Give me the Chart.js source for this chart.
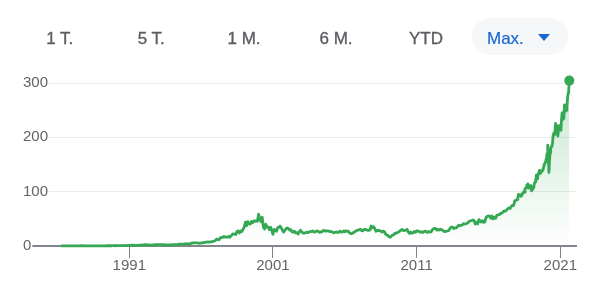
<!DOCTYPE html>
<html>
<head>
<meta charset="utf-8">
<script src="https://cdn.jsdelivr.net/npm/chart.js@4.4.1/dist/chart.umd.min.js"></script>
<style>
  html, body { margin: 0; padding: 0; background: #fff; }
  #wrap { position: relative; width: 600px; height: 291px; overflow: hidden; }
  #chart { position: absolute; left: 0; top: 0; }
  .range {
    position: absolute; top: 37.5px; transform: translate(-50%, -50%);
    font: 17px "Liberation Sans", Arial, sans-serif; line-height: 1;
    color: #5a5e63; white-space: nowrap; -webkit-text-stroke: 0.35px #5a5e63;
  }
  .pill {
    position: absolute; left: 472px; top: 18px; width: 96px; height: 37px;
    border-radius: 18.5px; background: #f5f7f9;
  }
  .pill .label {
    position: absolute; left: 15px; top: 19.5px; transform: translateY(-50%);
    font: 17px "Liberation Sans", Arial, sans-serif; line-height: 1; color: #1a67d2;
    -webkit-text-stroke: 0.2px #1a67d2;
  }
  .pill .caret {
    position: absolute; left: 66px; top: 16px; width: 0; height: 0;
    border-left: 6.5px solid transparent; border-right: 6.5px solid transparent;
    border-top: 7px solid #1a67d2;
  }
</style>
</head>
<body>
<div id="wrap">
  <canvas id="chart" width="600" height="291"></canvas>
  <div class="range" style="left:59.7px">1 T.</div>
  <div class="range" style="left:151.2px">5 T.</div>
  <div class="range" style="left:244px">1 M.</div>
  <div class="range" style="left:336px">6 M.</div>
  <div class="range" style="left:426px">YTD</div>
  <div class="pill"><span class="label">Max.</span><span class="caret"></span></div>
</div>
<script>
// Month-end closing prices (split-adjusted), March 1986 to December 1999
const closes1986to1999 = [
  0.10, 0.11, 0.11, 0.10, 0.10, 0.11, 0.11, 0.12, 0.12, 0.12,
  0.16, 0.20, 0.28, 0.32, 0.34, 0.33, 0.38, 0.43, 0.42, 0.33, 0.34, 0.38,
  0.37, 0.35, 0.36, 0.37, 0.35, 0.38, 0.37, 0.35, 0.36, 0.37, 0.34, 0.31,
  0.35, 0.36, 0.38, 0.40, 0.44, 0.48, 0.50, 0.52, 0.49, 0.55, 0.52, 0.46,
  0.58, 0.63, 0.67, 0.69, 0.81, 0.85, 0.87, 0.90, 0.85, 0.88, 0.98, 1.05,
  1.25, 1.42, 1.55, 1.39, 1.22, 1.26, 1.33, 1.48, 1.60, 1.66, 1.81, 2.24,
  2.30, 2.28, 2.12, 2.02, 1.96, 1.78, 1.83, 1.94, 2.09, 2.33, 2.47, 2.67,
  2.58, 2.36, 2.58, 2.30, 2.30, 2.22, 2.09, 2.14, 2.05, 2.12, 2.16, 2.52,
  2.56, 2.59, 2.57, 2.66, 3.26, 3.23, 3.37, 3.59, 3.47, 3.99, 3.98, 3.82,
  3.80, 3.95, 4.22, 5.08, 5.58, 5.65, 5.65, 5.73, 5.66, 5.00, 5.41, 5.48,
  5.84, 6.13, 6.45, 7.01, 7.05, 7.51, 7.29, 7.66, 8.23, 8.59, 9.24, 10.33,
  12.78, 11.94, 11.46, 15.19, 15.34, 15.80, 17.69, 16.45, 16.54, 16.25, 17.66, 16.16,
  18.66, 21.20, 22.38, 21.63, 21.19, 27.10, 27.70, 23.98, 27.52, 26.47, 30.55, 34.67,
  43.75, 37.52, 44.81, 40.66, 40.34, 45.09, 42.88, 46.31, 45.31, 46.31, 45.50, 58.38
];

// Month-end closing prices, January 2000 to December 2017
const closes2000to2017 = [
  48.94, 44.69, 53.13, 34.88, 31.28, 40.00, 34.94, 35.03, 30.16, 34.44, 28.66, 21.69,
  30.53, 29.50, 27.34, 33.88, 34.59, 36.50, 33.10, 28.53, 25.59, 29.08, 32.11, 33.13,
  31.85, 29.17, 30.15, 26.13, 25.46, 27.35, 24.00, 24.54, 21.87, 26.74, 28.92, 25.85,
  23.73, 23.70, 24.21, 25.57, 24.61, 25.64, 26.41, 26.52, 27.80, 26.14, 25.71, 27.37,
  27.65, 26.53, 24.93, 26.13, 26.23, 28.56, 28.46, 27.30, 27.65, 27.97, 26.81, 26.72,
  26.28, 25.16, 24.17, 25.30, 25.80, 24.84, 25.61, 27.38, 25.73, 25.70, 27.68, 26.15,
  28.15, 26.87, 27.21, 24.15, 22.65, 23.30, 24.06, 25.70, 27.35, 28.71, 29.36, 29.86,
  30.86, 28.17, 27.87, 30.60, 30.69, 29.47, 28.99, 28.73, 29.46, 36.81, 33.60, 35.60,
  32.60, 27.20, 28.38, 28.52, 28.32, 27.51, 25.72, 27.29, 26.69, 22.33, 20.22, 19.44,
  17.10, 16.15, 18.37, 20.26, 20.89, 23.77, 23.52, 24.65, 25.72, 27.73, 29.41, 30.48,
  28.18, 28.67, 29.29, 30.54, 25.80, 23.01, 25.81, 23.47, 24.49, 26.67, 25.26, 27.91,
  27.73, 26.58, 25.39, 26.02, 25.01, 26.00, 27.40, 26.60, 24.89, 26.63, 25.58, 25.96,
  29.53, 31.74, 32.26, 31.98, 29.19, 30.59, 29.47, 30.82, 29.76, 28.54, 26.62, 26.71,
  27.45, 27.80, 28.61, 33.10, 34.90, 34.55, 31.84, 33.40, 33.28, 35.41, 38.13, 37.41,
  37.84, 38.31, 40.99, 40.40, 40.94, 41.70, 43.16, 45.43, 46.36, 46.95, 47.81, 46.45,
  40.40, 43.85, 40.66, 48.64, 46.86, 44.15, 46.70, 43.52, 44.26, 52.64, 54.35, 55.48,
  55.09, 50.88, 55.23, 49.87, 53.00, 51.17, 56.68, 57.46, 57.60, 59.92, 60.26, 62.14,
  64.65, 63.98, 65.86, 68.46, 69.84, 68.93, 72.70, 74.77, 74.49, 83.18, 84.17, 85.54
];

// Mid-month and month-end closes, January 2018 to mid-August 2021
const closes2018to2021 = [
  88.4, 95.0, 92.7, 93.8, 94.2, 91.3, 93.1, 93.5, 97.2, 98.8, 100.1, 98.6,
  105.4, 106.1, 107.7, 112.3, 113.4, 114.4, 106.6, 106.8, 107.3, 110.9, 106.0, 101.6,
  105.0, 104.4, 108.2, 112.0, 115.9, 117.9, 120.8, 130.6, 126.0, 123.7, 132.5, 134.0,
  138.9, 136.3, 133.7, 137.9, 137.3, 139.0, 141.6, 143.4, 150.0, 151.4, 154.6, 157.7,
  163.2, 170.2, 185.4, 162.0, 135.4, 157.7, 171.9, 179.2, 183.2, 183.3, 188.9, 203.5,
  208.0, 205.0, 208.9, 225.5, 208.8, 210.3, 220.9, 202.5, 216.5, 214.1, 214.1, 222.4,
  212.7, 232.0, 245.0, 232.4, 234.8, 235.8, 259.5, 252.2, 248.2, 249.7, 257.4, 270.9,
  281.0, 284.9, 304.4
];

const tickYears = [1991, 2001, 2011, 2021];

const GREEN = '#34a853';
const FONT = '"Liberation Sans", Arial, sans-serif';
const LABEL_GREY = '#646464';

// Decimal-year positions: month ends for the monthly series, half months afterwards
const points = [];
closes1986to1999.forEach((v, i) => points.push({ x: 1986 + (i + 3) / 12, y: v }));
closes2000to2017.forEach((v, i) => points.push({ x: 2000 + (i + 1) / 12, y: v }));
closes2018to2021.forEach((v, i) => points.push({ x: 2018 + (i + 1) / 24, y: v }));
const lastIndex = points.length - 1;

function areaGradient(context) {
  const chart = context.chart;
  const area = chart.chartArea;
  if (!area) return 'rgba(52,168,83,0.1)';
  const top = chart.scales.y.getPixelForValue(305);
  const g = chart.ctx.createLinearGradient(0, top, 0, area.bottom);
  g.addColorStop(0, 'rgba(52,168,83,0.28)');
  g.addColorStop(1, 'rgba(52,168,83,0)');
  return g;
}

new Chart(document.getElementById('chart'), {
  type: 'line',
  data: {
    datasets: [{
      data: points,
      borderColor: GREEN,
      borderWidth: 2.8,
      borderJoinStyle: 'round',
      tension: 0,
      fill: 'origin',
      backgroundColor: areaGradient,
      pointRadius: ctx => (ctx.dataIndex === lastIndex ? 5 : 0),
      pointBackgroundColor: GREEN,
      pointBorderWidth: 0,
      pointHoverRadius: 0,
      clip: false
    }]
  },
  options: {
    responsive: false,
    animation: false,
    events: [],
    layout: { padding: { left: 21, right: 23, top: 83, bottom: 0 } },
    plugins: { legend: { display: false }, tooltip: { enabled: false } },
    scales: {
      x: {
        type: 'linear',
        min: 1983.462,
        max: 2022.162,
        border: { display: false },
        grid: { drawOnChartArea: false, drawTicks: true, tickLength: 12, color: '#80868b', lineWidth: 1 },
        ticks: {
          autoSkip: false, maxRotation: 0, padding: 0,
          color: LABEL_GREY,
          font: { family: FONT, size: 15, lineHeight: 1.1 },
          callback: v => String(v)
        },
        afterBuildTicks: scale => { scale.ticks = tickYears.map(v => ({ value: v })); },
        afterFit: scale => { scale.height = 45; }
      },
      y: {
        min: 0,
        max: 300,
        border: { display: false },
        grid: {
          drawTicks: false,
          color: c => (c.tick && c.tick.value === 0 ? '#80868b' : '#ececec'),
          lineWidth: c => (c.tick && c.tick.value === 0 ? 2 : 1)
        },
        ticks: {
          stepSize: 100,
          mirror: true,
          padding: 2,
          color: LABEL_GREY,
          font: { family: FONT, size: 15 },
          showLabelBackdrop: true,
          backdropColor: '#ffffff',
          backdropPadding: { top: 2, bottom: 2, left: 3, right: 1 }
        },
        afterFit: scale => { scale.width = 0; }
      }
    }
  }
});
</script>
</body>
</html>
